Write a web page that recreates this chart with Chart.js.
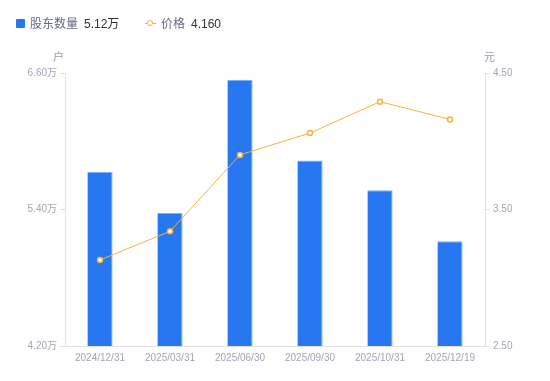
<!DOCTYPE html>
<html><head><meta charset="utf-8">
<script src="https://cdn.jsdelivr.net/npm/chart.js@4"></script>
<style>
html,body{margin:0;padding:0;background:#fff;}
#wrap{position:relative;width:550px;height:381px;font-family:"Liberation Sans","Noto Sans CJK SC",sans-serif;}
canvas{position:absolute;left:0;top:0;}
.lg{position:absolute;top:15px;font-size:12px;color:#666a80;line-height:18px;white-space:nowrap;}
.lg b{font-weight:normal;color:#333;margin-left:6px;}
.unit{position:absolute;top:48px;font-size:11px;color:#9a9cae;}
</style></head><body>
<div id="wrap">
<canvas id="c" width="550" height="381"></canvas>
<div class="lg" id="lg1" style="left:16px;"><span style="display:inline-block;width:9px;height:9px;background:#2677F0;border-radius:1px;margin-right:5px;vertical-align:-0px;"></span>股东数量<b id="v1"></b></div>
<div class="lg" id="lg2" style="left:145px;"><span style="display:inline-block;position:relative;width:11px;height:9px;margin-right:5px;vertical-align:0px;"><span style="position:absolute;left:0;top:4px;width:11px;height:1px;background:#F7B23B;"></span><span style="position:absolute;left:2px;top:1px;width:4px;height:4px;border:1.5px solid #F7B23B;border-radius:50%;background:#fff;"></span></span>价格<b id="v2"></b></div>
<div class="unit" style="left:53px;">户</div>
<div class="unit" style="left:484px;">元</div>
</div>
<script>
const categories = ["2024/12/31","2025/03/31","2025/06/30","2025/09/30","2025/10/31","2025/12/19"];
const holders = [5.73, 5.37, 6.54, 5.83, 5.57, 5.12];
const prices = [3.13, 3.34, 3.90, 4.06, 4.29, 4.16];
const leftTicks = [4.20, 5.40, 6.60];
const rightTicks = [2.50, 3.50, 4.50];

document.getElementById('v1').textContent = holders[holders.length-1].toFixed(2) + '万';
document.getElementById('v2').textContent = prices[prices.length-1].toFixed(3);

const tickFont = {family:'"Liberation Sans","Noto Sans CJK SC",sans-serif', size:10};
const tickColor = '#a3a5b5';
const axisColor = '#e2e2e6';

new Chart(document.getElementById('c'), {
  data: {
    labels: categories,
    datasets: [
      {type:'line', data: prices, yAxisID:'y1', borderColor:'#F7B23B', borderWidth:1,
       pointRadius:2.5, pointHoverRadius:2.5, pointBorderWidth:1.5, pointBackgroundColor:'#fff',
       pointBorderColor:'#F7B23B', tension:0, order:0},
      {type:'bar', data: holders, yAxisID:'y', backgroundColor:'#2677F0',
       borderColor:'#7fb0f7', borderWidth:{top:1,left:0,right:1,bottom:0},
       barPercentage:0.36, categoryPercentage:1, order:1}
    ]
  },
  options: {
    responsive:false, animation:false,
    layout:{padding:{top:73,left:0,right:0,bottom:0}},
    plugins:{legend:{display:false}, tooltip:{enabled:false}},
    scales:{
      x:{
        grid:{display:true, drawOnChartArea:false, drawTicks:false},
        border:{color:axisColor},
        ticks:{font:tickFont, color:tickColor, padding:6, maxRotation:0},
        afterFit(s){ s.height = 35; }
      },
      y:{
        position:'left', min:4.2, max:6.6,
        afterBuildTicks(s){ s.ticks = leftTicks.map(v=>({value:v})); },
        grid:{drawOnChartArea:false, drawTicks:true, tickLength:5, color:axisColor},
        border:{color:axisColor},
        ticks:{font:tickFont, color:tickColor, padding:3, callback:v=>v.toFixed(2)+'万'},
        afterFit(s){ s.width = 65; }
      },
      y1:{
        position:'right', min:2.5, max:4.5,
        afterBuildTicks(s){ s.ticks = rightTicks.map(v=>({value:v})); },
        grid:{drawOnChartArea:false, drawTicks:true, tickLength:5, color:axisColor},
        border:{color:axisColor},
        ticks:{font:tickFont, color:tickColor, padding:3, callback:v=>v.toFixed(2)},
        afterFit(s){ s.width = 65; }
      }
    }
  }
});
</script>
</body></html>
